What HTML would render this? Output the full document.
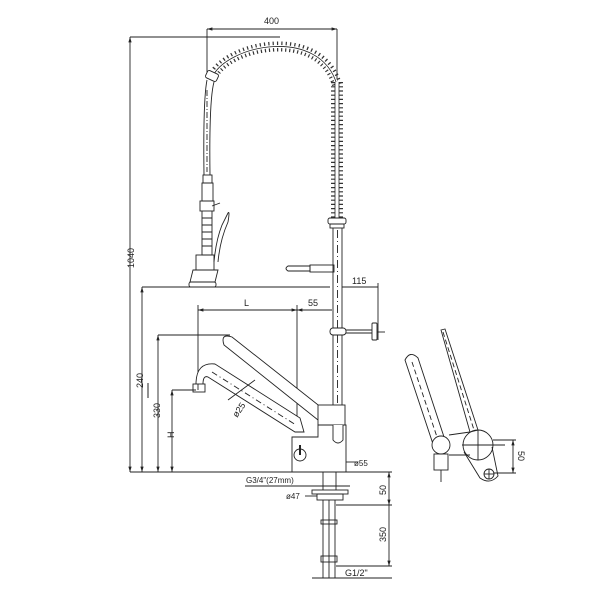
<!DOCTYPE html>
<html><head><meta charset="utf-8"><style>
html,body{margin:0;padding:0;background:#fff}
svg{display:block}
text{font-family:"Liberation Sans",sans-serif;fill:#222}
</style></head><body>
<svg width="600" height="600" viewBox="0 0 600 600" xmlns="http://www.w3.org/2000/svg">
<defs>
<marker id="a" viewBox="0 0 10 10" refX="10" refY="5" markerWidth="6" markerHeight="6" orient="auto-start-reverse"><path d="M0,2L10,5L0,8z" fill="#222"/></marker>
</defs>
<g stroke="#222" fill="none" stroke-width="0.9">
<!-- 400 dim -->
<line x1="207" y1="29" x2="337" y2="29" marker-start="url(#a)" marker-end="url(#a)"/>
<line x1="207" y1="29" x2="207" y2="75"/>
<line x1="337" y1="29" x2="337" y2="82"/>
<!-- 1040 -->
<line x1="130" y1="37" x2="130" y2="472" marker-start="url(#a)" marker-end="url(#a)"/>
<line x1="130" y1="37" x2="280" y2="37"/>
<!-- hose arc (coil) -->
<path d="M212,78 C225,45 320,25 337,85" stroke-width="10" stroke="#333" stroke-dasharray="1.2 3"/>
<path d="M212,78 C225,45 320,25 337,85" stroke-width="3" stroke="#fff"/>
<path d="M212,78 C225,45 320,25 337,85" stroke-width="0.8"/>
<line x1="337" y1="82" x2="337" y2="220" stroke-width="12" stroke="#333" stroke-dasharray="1.2 3"/>
<line x1="337" y1="82" x2="337" y2="220" stroke-width="4" stroke="#fff"/>
<line x1="335" y1="82" x2="335" y2="220" stroke-width="0.8"/>
<line x1="339" y1="82" x2="339" y2="220" stroke-width="0.8"/>
<rect x="328" y="218" width="18" height="6" rx="2" fill="#fff"/>
<rect x="330" y="224" width="14" height="4"/>
<!-- left hose -->
<rect x="206" y="72" width="12" height="8" rx="2" transform="rotate(25 212 76)" fill="#fff"/>
<path d="M207,80 Q203,100 204,175 M214,82 Q209,100 210,175"/>
<line x1="207" y1="90" x2="207" y2="172" stroke-dasharray="6 2 1 2"/>
<!-- spray head -->
<rect x="203" y="175" width="9" height="8"/>
<rect x="202" y="183" width="11" height="18"/>
<rect x="200" y="201" width="14" height="10"/>
<line x1="212" y1="206" x2="220" y2="203"/>
<path d="M202,211 L202,255 L212,255 L212,211 M202,218h10 M202,225h10 M202,232h10 M202,239h10 M202,246h10"/>
<path d="M214,262 Q216,240 222,225 L228,213 Q230,210 228,222 Q220,240 218,262"/>
<rect x="196" y="255" width="18" height="15"/>
<path d="M193,270 L218,270 L215,282 L190,282 z"/>
<rect x="189" y="282" width="27" height="5" rx="2"/>
<!-- riser pipe -->
<line x1="333" y1="228" x2="333" y2="440"/>
<line x1="342" y1="228" x2="342" y2="440"/>
<line x1="337.5" y1="230" x2="337.5" y2="435" stroke-dasharray="8 3 1 3"/>
<!-- arm handle -->
<path d="M288,266 L310,266 L310,271 L288,271 Q284,268.5 288,266z"/>
<rect x="310" y="265" width="24" height="7"/>
<!-- 115 -->
<line x1="342" y1="287" x2="378" y2="287"/>
<line x1="378" y1="283" x2="378" y2="340"/>
<!-- bracket -->
<rect x="330" y="328" width="16" height="7" rx="3" fill="#fff"/>
<line x1="346" y1="330" x2="372" y2="330"/><line x1="346" y1="333" x2="372" y2="333"/>
<rect x="372" y="323" width="5" height="17" rx="1"/>
<line x1="377" y1="332" x2="385" y2="332"/>
<!-- 240 -->
<line x1="142" y1="287" x2="330" y2="287"/>
<line x1="142" y1="287" x2="142" y2="472" marker-start="url(#a)" marker-end="url(#a)"/>
<!-- L / 55 -->
<line x1="198" y1="310" x2="297" y2="310" marker-start="url(#a)" marker-end="url(#a)"/>
<line x1="297" y1="310" x2="332" y2="310" marker-start="url(#a)"/>
<line x1="198" y1="305" x2="198" y2="390"/>
<line x1="297" y1="305" x2="297" y2="432"/>
<!-- 330 -->
<line x1="158" y1="335" x2="230" y2="335"/>
<line x1="158" y1="335" x2="158" y2="472" marker-start="url(#a)" marker-end="url(#a)"/>
<!-- H -->
<line x1="172" y1="390" x2="196" y2="390"/>
<line x1="172" y1="390" x2="172" y2="472" marker-start="url(#a)" marker-end="url(#a)"/>
<!-- lever -->
<path d="M224,345 Q220,333 232,337 L322,408 L318,420 Z" fill="#fff"/>
<!-- spout -->
<path d="M196,384 Q196,362 215,364 L300,418 L304,432 L295,432 L208,377 Q203,375 203,384" fill="#fff"/>
<line x1="212" y1="372" x2="296" y2="425" stroke-dasharray="6 3 1 3"/>
<rect x="193" y="384" width="12" height="8"/>
<line x1="228" y1="400" x2="255" y2="380"/>
<!-- body -->
<rect x="318" y="405" width="27" height="20" fill="#fff"/>
<path d="M292,437 L318,437 L318,425 L346,425 L346,472 L292,472 Z" fill="#fff"/>
<path d="M333,425 L333,440 Q338,446 343,440 L343,425" fill="#fff"/>
<circle cx="300" cy="455" r="6"/>
<line x1="300" y1="445" x2="300" y2="455" stroke-width="2"/>
<line x1="346" y1="462" x2="358" y2="462"/>
<!-- base line -->
<line x1="130" y1="472" x2="392" y2="472"/>
<line x1="245" y1="486" x2="350" y2="486"/>
<!-- shank -->
<line x1="323" y1="472" x2="323" y2="490"/><line x1="336" y1="472" x2="336" y2="490"/>
<rect x="312" y="490" width="36" height="4"/>
<rect x="317" y="494" width="26" height="6"/>
<line x1="305" y1="496" x2="317" y2="496"/>
<line x1="323" y1="500" x2="323" y2="578"/><line x1="329" y1="500" x2="329" y2="578"/><line x1="335" y1="500" x2="335" y2="578"/>
<rect x="321" y="520" width="16" height="4"/>
<rect x="321" y="556" width="16" height="6"/>
<!-- 50 / 350 -->
<line x1="336" y1="505" x2="392" y2="505"/>
<line x1="389" y1="472" x2="389" y2="505" marker-start="url(#a)" marker-end="url(#a)"/>
<line x1="389" y1="505" x2="389" y2="566" marker-end="url(#a)"/>
<line x1="336" y1="566" x2="392" y2="566"/>
<line x1="312" y1="578" x2="392" y2="578"/>
<!-- detail view -->
<path d="M405,360 Q410,350 418,358 L445,440 L433,444 Z" fill="#fff"/>
<line x1="412" y1="362" x2="438" y2="440" stroke-dasharray="5 3"/>
<path d="M441,330 L445,329 L478,430 L470,432 Z"/>
<line x1="443" y1="332" x2="474" y2="430" stroke-dasharray="5 3"/>
<circle cx="441" cy="445" r="9" fill="#fff"/>
<rect x="434" y="454" width="14" height="16"/>
<line x1="441" y1="470" x2="441" y2="482"/>
<line x1="449" y1="435" x2="470" y2="432"/>
<line x1="449" y1="455" x2="470" y2="455"/>
<circle cx="478" cy="445" r="15"/>
<path d="M464,452 L480,478 Q490,485 498,476 L492,447"/>
<circle cx="489" cy="474" r="5"/>
<line x1="484" y1="474" x2="494" y2="474"/><line x1="489" y1="469" x2="489" y2="479"/>
<line x1="462" y1="445" x2="505" y2="445"/><line x1="478" y1="430" x2="478" y2="460"/>
<line x1="493" y1="440" x2="516" y2="440"/>
<line x1="494" y1="473" x2="516" y2="473"/>
<line x1="513" y1="440" x2="513" y2="473" marker-start="url(#a)" marker-end="url(#a)"/>
</g>
<g font-size="9">
<text x="264" y="24">400</text>
<text x="352" y="284">115</text>
<text x="244" y="306">L</text>
<text x="308" y="306">55</text>
<text x="354" y="466" font-size="8">ø55</text>
<text x="246" y="483" font-size="8">G3/4"(27mm)</text>
<text x="286" y="499" font-size="8">ø47</text>
<text x="345" y="576">G1/2"</text>
<text transform="translate(134,268) rotate(-90)">1040</text>
<text transform="translate(143,388) rotate(-90)">240</text>
<line x1="148" y1="383" x2="148" y2="398" stroke="#222"/>
<text transform="translate(160,418) rotate(-90)">330</text>
<text transform="translate(174,438) rotate(-90)">H</text>
<text transform="translate(237,418) rotate(-55)">ø25</text>
<text transform="translate(386,495) rotate(-90)">50</text>
<text transform="translate(386,542) rotate(-90)">350</text>
<text transform="translate(518,451) rotate(90)">50</text>
</g>
</svg>
</body></html>
